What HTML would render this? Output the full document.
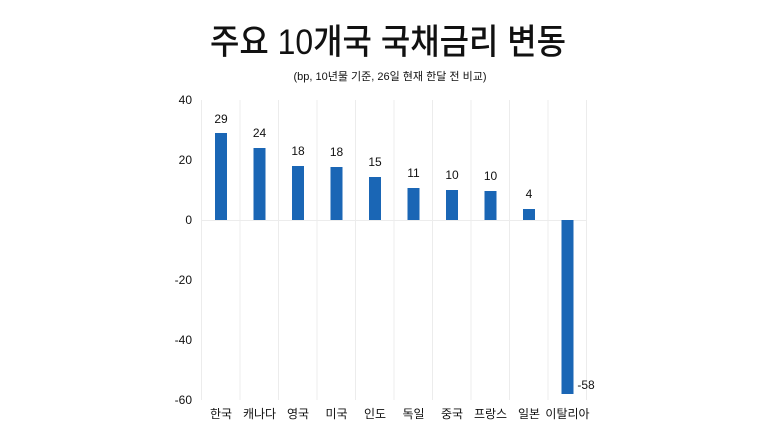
<!DOCTYPE html>
<html><head><meta charset="utf-8"><style>
body{margin:0;background:#fff;}
svg text{font-family:"Liberation Sans","Noto Sans CJK KR",sans-serif;fill:#111;}
</style></head><body>
<svg width="780" height="435" xmlns="http://www.w3.org/2000/svg">
<text x="388" y="54" font-size="35" font-weight="500" text-anchor="middle" textLength="356" lengthAdjust="spacingAndGlyphs">주요 10개국 국채금리 변동</text>
<text x="390" y="80" font-size="11" text-anchor="middle">(bp, 10년물 기준, 26일 현재 한달 전 비교)</text>
<g stroke="#ececec" stroke-width="1">
<line x1="201.5" y1="100" x2="201.5" y2="400"/><line x1="240" y1="100" x2="240" y2="400"/>
<line x1="278.5" y1="100" x2="278.5" y2="400"/><line x1="317" y1="100" x2="317" y2="400"/>
<line x1="355.5" y1="100" x2="355.5" y2="400"/><line x1="394" y1="100" x2="394" y2="400"/>
<line x1="432.5" y1="100" x2="432.5" y2="400"/><line x1="471" y1="100" x2="471" y2="400"/>
<line x1="509.5" y1="100" x2="509.5" y2="400"/><line x1="548" y1="100" x2="548" y2="400"/>
<line x1="586.5" y1="100" x2="586.5" y2="400"/>
<line x1="201" y1="220.5" x2="587" y2="220.5"/>
</g>
<g font-size="12" text-anchor="end">
<text x="192" y="104">40</text><text x="192" y="164">20</text><text x="192" y="224">0</text>
<text x="192" y="284">-20</text><text x="192" y="344">-40</text><text x="192" y="404">-60</text>
</g>
<g fill="#1a66b5">
<rect x="215" y="133" width="12" height="87"/>
<rect x="253.5" y="148" width="12" height="72"/>
<rect x="292" y="166" width="12" height="54"/>
<rect x="330.5" y="167" width="12" height="53"/>
<rect x="369" y="177" width="12" height="43"/>
<rect x="407.5" y="188" width="12" height="32"/>
<rect x="446" y="190" width="12" height="30"/>
<rect x="484.5" y="191" width="12" height="29"/>
<rect x="523" y="209" width="12" height="11"/>
<rect x="561.5" y="220" width="12" height="174"/>
</g>
<g font-size="12" text-anchor="middle">
<text x="221" y="123">29</text><text x="259.5" y="137">24</text><text x="298" y="155">18</text>
<text x="336.5" y="156">18</text><text x="375" y="166">15</text><text x="413.5" y="177">11</text>
<text x="452" y="179">10</text><text x="490.5" y="180">10</text><text x="529" y="198">4</text>
<text x="586" y="389">-58</text>
</g>
<g font-size="12" text-anchor="middle">
<text x="221" y="418">한국</text><text x="259.5" y="418">캐나다</text><text x="298" y="418">영국</text>
<text x="336.5" y="418">미국</text><text x="375" y="418">인도</text><text x="413.5" y="418">독일</text>
<text x="452" y="418">중국</text><text x="490.5" y="418">프랑스</text><text x="529" y="418">일본</text>
<text x="567.5" y="418">이탈리아</text>
</g>
</svg>
</body></html>
